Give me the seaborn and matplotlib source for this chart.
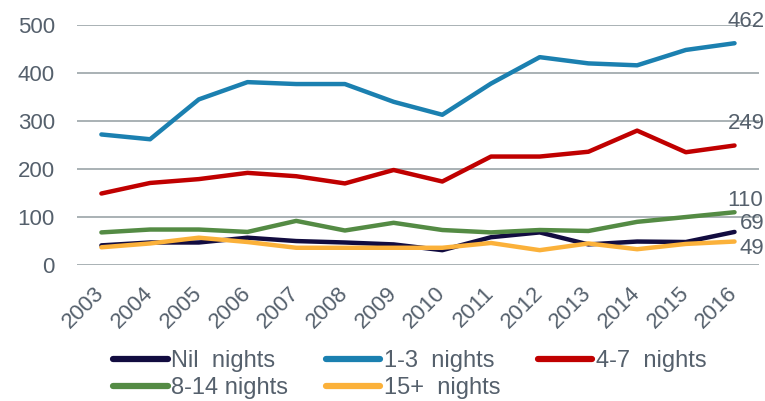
import pandas as pd
import seaborn as sns
import matplotlib.pyplot as plt

# nights stayed, counts per year
years = [str(y) for y in range(2003, 2017)]
nil_nights = [41, 47, 47, 57, 50, 47, 43, 31, 58, 68, 43, 49, 48, 69]
n_1_3 = [272, 262, 345, 381, 377, 377, 340, 313, 378, 433, 420, 416, 448, 462]
n_4_7 = [149, 171, 179, 192, 185, 170, 198, 174, 226, 226, 236, 280, 235, 249]
n_8_14 = [68, 74, 74, 69, 92, 72, 88, 73, 68, 73, 71, 90, 100, 110]
n_15_plus = [37, 45, 57, 48, 36, 36, 36, 36, 46, 31, 45, 33, 44, 49]

series_names = ["Nil  nights", "1-3  nights", "4-7  nights", "8-14 nights", "15+  nights"]
colors = ["#120c40", "#1b80b0", "#c00000", "#548b44", "#fbb13a"]

df = pd.DataFrame({"Nil  nights": nil_nights, "1-3  nights": n_1_3,
                   "4-7  nights": n_4_7, "8-14 nights": n_8_14,
                   "15+  nights": n_15_plus}, index=years)
long = df.reset_index(names="year").melt(id_vars="year", var_name="series", value_name="count")

sns.set_style("white")
plt.rcParams["font.family"] = ["Liberation Sans", "DejaVu Sans"]
txt = "#55606c"

fig = plt.figure(figsize=(7.65, 4.01), dpi=100)
ax = fig.add_axes([0.1007, 0.339, 0.8913, 0.5987])

sns.lineplot(data=long, x="year", y="count", hue="series", hue_order=series_names,
             palette=colors, linewidth=3.2, ax=ax, sort=False, legend=True)
for ln in ax.get_lines():
    ln.set_solid_capstyle("round")
    ln.set_solid_joinstyle("round")

ax.set_xlim(-0.5, len(years) - 0.5)
ax.set_ylim(0, 500)
ax.set_yticks(range(0, 501, 100))
ax.yaxis.grid(True, color="#a9b1b4", linewidth=1.4)
ax.set_axisbelow(True)
for s in ax.spines.values():
    s.set_visible(False)
ax.set_xlabel("")
ax.set_ylabel("")
ax.tick_params(axis="both", length=0, colors=txt, labelsize=16)
ax.tick_params(axis="y", pad=16)
ax.tick_params(axis="x", pad=18)
for lab in ax.get_xticklabels():
    lab.set_rotation(45)
    lab.set_ha("right")
    lab.set_va("center")
    lab.set_rotation_mode("anchor")

# end-of-line labels
last = len(years) - 1
offsets = {"1-3  nights": (-7, 22), "4-7  nights": (-7, 22), "8-14 nights": (-7, 12),
           "Nil  nights": (5, 8), "15+  nights": (5, -7)}
for name in series_names:
    v = df[name].iloc[-1]
    dx, dy = offsets[name]
    ax.annotate(str(v), (last, v), xytext=(dx, dy), textcoords="offset pixels",
                ha="left", va="center", fontsize=16, color=txt, annotation_clip=False)

handles, labels = ax.get_legend_handles_labels()
ax.get_legend().remove()
order = [0, 3, 1, 4, 2]  # legend fills by column, reference reads by row
leg = fig.legend([handles[i] for i in order], [labels[i] for i in order],
                 loc="center", bbox_to_anchor=(0.536, 0.066), ncol=3,
                 frameon=False, fontsize=17, handlelength=2.3, handletextpad=0.15,
                 columnspacing=1.6, labelspacing=0.2, labelcolor=txt)
for h in leg.get_lines():
    h.set_linewidth(4.5)
    h.set_solid_capstyle("round")

fig.savefig("out.png", dpi=100)
